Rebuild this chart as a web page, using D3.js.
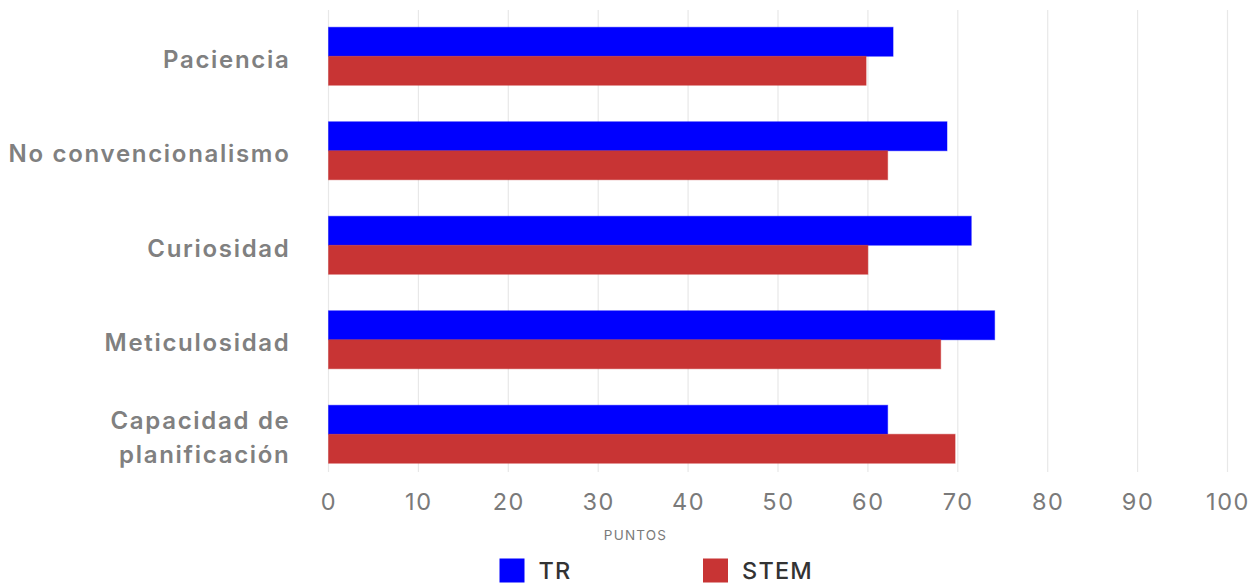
<!DOCTYPE html>
<html>
<head>
<meta charset="utf-8">
<script src="https://cdn.jsdelivr.net/npm/d3@7"></script>
<style>
  html, body { margin: 0; padding: 0; background: #ffffff; }
  svg { display: block; font-family: Inter, "Noto Sans", sans-serif; }
</style>
</head>
<body>
<svg id="chart" width="1260" height="585"></svg>
<script>
// Skill categories (top to bottom)
const categories = [
  "Paciencia",
  "No convencionalismo",
  "Curiosidad",
  "Meticulosidad",
  "Capacidad de planificación"
];
// Wrapped label lines per category
const categoryLines = [
  ["Paciencia"],
  ["No convencionalismo"],
  ["Curiosidad"],
  ["Meticulosidad"],
  ["Capacidad de", "planificación"]
];
const seriesNames = ["TR", "STEM"];
const trValues   = [62.8, 68.8, 71.5, 74.1, 62.2];
const stemValues = [59.8, 62.2, 60.0, 68.1, 69.7];
const xTicks = [0, 10, 20, 30, 40, 50, 60, 70, 80, 90, 100];
const axisTitle = "PUNTOS";
const colors = { TR: "#0000ff", STEM: "#c83434" };

const svg = d3.select("#chart");

const x = d3.scaleLinear().domain([0, 100]).range([328.5, 1227.5]);
const y = d3.scaleBand().domain(categories).range([9, 481.5])
  .paddingInner(0.386).paddingOuter(0.193);
const ySub = d3.scaleBand().domain(seriesNames).range([0, y.bandwidth()]);

const gridTop = 10, gridBottom = 472;

// vertical gridlines
svg.append("g").selectAll("line").data(xTicks).join("line")
  .attr("x1", d => x(d)).attr("x2", d => x(d))
  .attr("y1", gridTop).attr("y2", gridBottom)
  .attr("stroke", "#e8e8e8").attr("stroke-width", 1.2);

// bars
const rows = categories.map((c, i) => ({ cat: c, TR: trValues[i], STEM: stemValues[i] }));
const groups = svg.append("g").selectAll("g").data(rows).join("g")
  .attr("transform", d => `translate(0,${y(d.cat)})`);
groups.selectAll("rect")
  .data(d => seriesNames.map(s => ({ s, v: d[s] })))
  .join("rect")
  .attr("x", x(0))
  .attr("y", d => ySub(d.s))
  .attr("width", d => x(d.v) - x(0))
  .attr("height", ySub.bandwidth())
  .attr("fill", d => colors[d.s])
  .attr("stroke", d => colors[d.s])
  .attr("stroke-opacity", 0.45)
  .attr("stroke-width", 1);

// x axis labels
const xAxis = d3.axisBottom(x).tickValues(xTicks).tickSize(0).tickPadding(0);
const gx = svg.append("g").attr("transform", `translate(0,${gridBottom})`).call(xAxis);
gx.select(".domain").remove();
gx.selectAll("text")
  .attr("y", 38).attr("dy", 0)
  .attr("font-family", "Inter, sans-serif")
  .attr("font-size", 23.5).attr("letter-spacing", 1.6)
  .attr("fill", "#7a7a7a");

// axis title
svg.append("text").attr("x", 635.5).attr("y", 540)
  .attr("text-anchor", "middle")
  .attr("font-size", 13.5).attr("letter-spacing", 1.2)
  .attr("fill", "#7a7a7a").text(axisTitle);

// category labels
const labels = svg.append("g").selectAll("text").data(categories).join("text")
  .attr("text-anchor", "end")
  .attr("font-size", 24).attr("font-weight", 600)
  .attr("letter-spacing", 1.7)
  .attr("fill", "#808080");
labels.each(function(d, i) {
  const lines = categoryLines[i];
  const cy = y(d) + y.bandwidth() / 2;
  const lh = 34;
  const t = d3.select(this);
  lines.forEach((ln, j) => {
    t.append("tspan").attr("x", 290.5)
      .attr("y", cy + (j - (lines.length - 1) / 2) * lh + 11.5)
      .text(ln);
  });
});

// legend
const legendX = [499.5, 703];
const lg = svg.append("g").selectAll("g").data(seriesNames).join("g")
  .attr("transform", (d, i) => `translate(${legendX[i]},558.5)`);
lg.append("rect").attr("width", 25).attr("height", 24)
  .attr("fill", d => colors[d]);
lg.append("text").attr("x", 39).attr("y", 20)
  .attr("font-size", 23.5).attr("font-weight", 500)
  .attr("letter-spacing", 1.2)
  .attr("fill", "#333333").text(d => d);
</script>
</body>
</html>
